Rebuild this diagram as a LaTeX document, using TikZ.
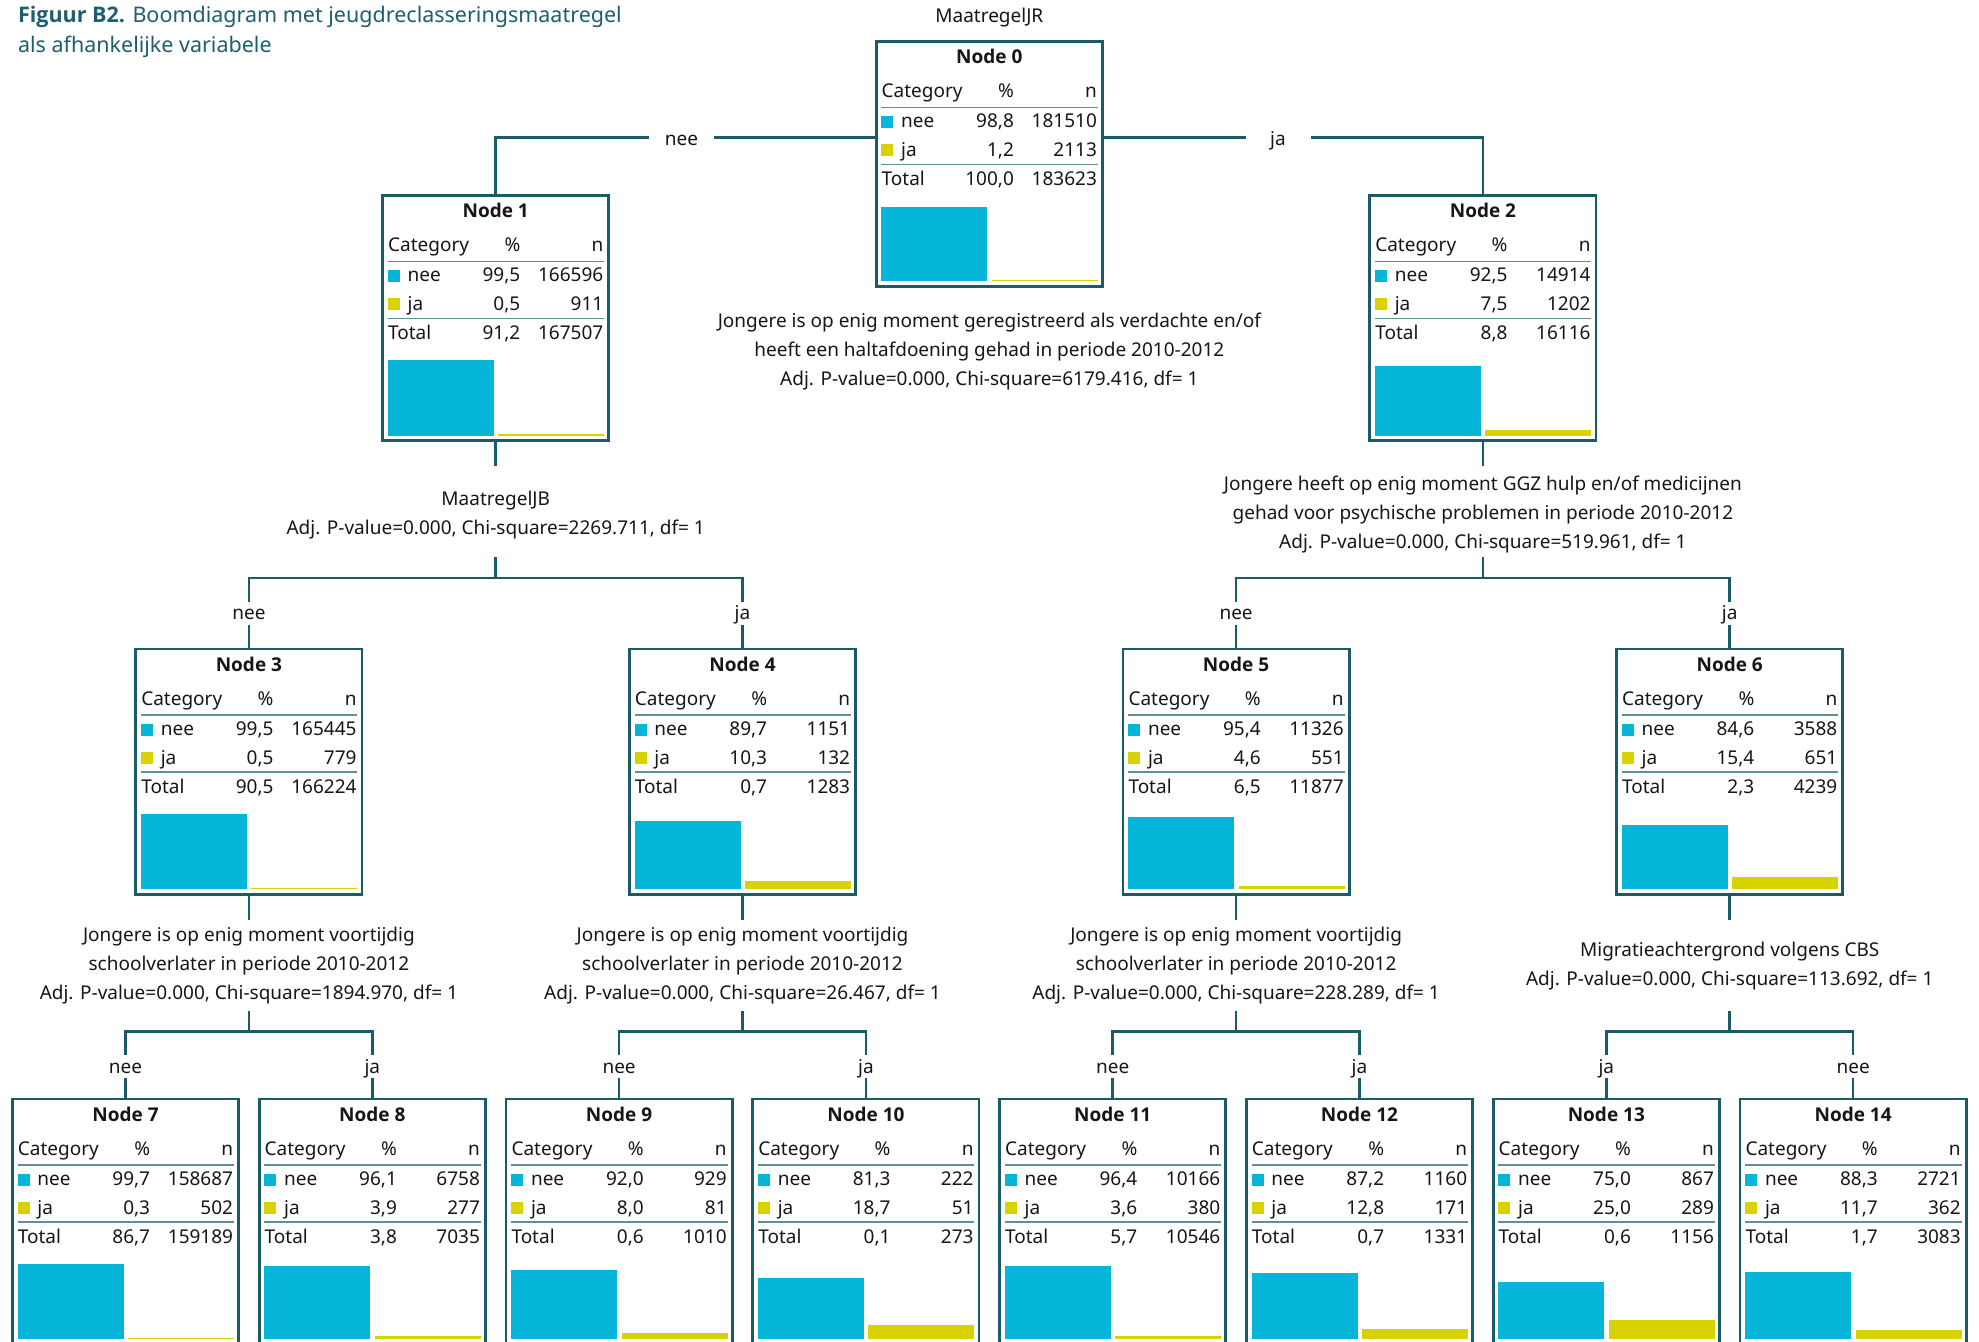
\documentclass[tikz,border=0pt]{standalone}
\usepackage{fontspec}
\setmainfont{Noto Sans}
\newfontfamily\boldsans{Open Sans}
\definecolor{tealdk}{HTML}{1B5B68}
\definecolor{titlecol}{HTML}{1F5F6C}
\definecolor{sepcol}{HTML}{5F8F99}
\definecolor{cyanbar}{HTML}{06B6D9}
\definecolor{yelbar}{HTML}{D8D300}
\definecolor{txtcol}{HTML}{161616}
\tikzset{
  box/.style={draw=tealdk, line width=1.4pt, minimum width=113.1pt, minimum height=122.6pt, inner sep=0pt, fill=white},
  conn/.style={draw=tealdk, line width=1.35pt},
  sepl/.style={draw=sepcol, line width=0.8pt},
  txt/.style={inner sep=0pt, text=txtcol, font=\fontsize{9.5}{14.5}\selectfont},
  ttl/.style={inner sep=0pt, text=txtcol, font=\fontsize{9.5}{14.5}\selectfont\boldsans\bfseries},
  lbl/.style={txt, fill=white, text height=7.5pt, text depth=1pt, minimum height=11.5pt, minimum width=32.5pt},
  info/.style={txt, align=center},
  figtitle/.style={inner sep=0pt, text=titlecol, font=\fontsize{10.75}{15}\selectfont}
}
\newcommand\cnode[3]{\def\cid{#1}\def\ccx{#2}\def\ctop{#3}\cnodeB}
\newcommand\cnodeB[8]{%
  \pgfmathsetmacro\hA{max(1.2,75.5*#7/100)}%
  \pgfmathsetmacro\hB{max(1.2,75.5*#8/100)}%
  \begin{scope}[shift={(\ccx-114.5,\ctop)}]
    \node[box] (n\cid) at (114.5,124) {};
    \node[ttl,anchor=base] (n\cid-t) at (114.5,24) {Node \cid};
    \node[txt,anchor=base west] (n\cid-hc) at (6.5,58) {Category};
    \node[txt,anchor=base east] (n\cid-hp) at (139.5,58) {\%};
    \node[txt,anchor=base east] (n\cid-hn) at (222.5,58) {n};
    \draw[sepl] (6.5,67.5) -- (223,67.5);
    \fill[cyanbar] (6.5,76) rectangle (18.5,88);
    \node[txt,anchor=base west] (n\cid-al) at (26,88) {nee};
    \node[txt,anchor=base east] (n\cid-ap) at (139.5,88) {#1};
    \node[txt,anchor=base east] (n\cid-an) at (222.5,88) {#2};
    \fill[yelbar] (6.5,104.5) rectangle (18.5,116.5);
    \node[txt,anchor=base west] (n\cid-bl) at (26,116.5) {ja};
    \node[txt,anchor=base east] (n\cid-bp) at (139.5,116.5) {#3};
    \node[txt,anchor=base east] (n\cid-bn) at (222.5,116.5) {#4};
    \draw[sepl] (6.5,124.5) -- (223,124.5);
    \node[txt,anchor=base west] (n\cid-cl) at (6.5,145.5) {Total};
    \node[txt,anchor=base east] (n\cid-cp) at (139.5,145.5) {#5};
    \node[txt,anchor=base east] (n\cid-cn) at (222.5,145.5) {#6};
    \fill[cyanbar] (6.5,241.5) rectangle (112.5,241.5-\hA);
    \fill[yelbar] (117,241.5) rectangle (223,241.5-\hB);
  \end{scope}}
\begin{document}
\begin{tikzpicture}[x=0.5pt,y=-0.5pt]
\useasboundingbox (0,0) rectangle (1979,1342);
\fill[white] (0,0) rectangle (1979,1342);
\clip (0,0) rectangle (1979,1342);

% title
\node[figtitle,anchor=base west] (title1) at (17.7,23) {{\boldsans\bfseries Figuur B2.} Boomdiagram met jeugdreclasseringsmaatregel};
\node[figtitle,anchor=base west] (title2) at (17.7,53) {als afhankelijke variabele};

% dependent variable
\node[txt,anchor=base] (dep) at (989.3,23) {MaatregelJR};

% nodes
\cnode{0}{989.3}{40}{98,8}{181510}{1,2}{2113}{100,0}{183623}{98.8}{1.2}
\cnode{1}{495.7}{194}{99,5}{166596}{0,5}{911}{91,2}{167507}{99.5}{0.5}
\cnode{2}{1482.9}{194}{92,5}{14914}{7,5}{1202}{8,8}{16116}{92.5}{7.5}
\cnode{3}{248.9}{647.5}{99,5}{165445}{0,5}{779}{90,5}{166224}{99.5}{0.5}
\cnode{4}{742.5}{647.5}{89,7}{1151}{10,3}{132}{0,7}{1283}{89.7}{10.3}
\cnode{5}{1236.1}{647.5}{95,4}{11326}{4,6}{551}{6,5}{11877}{95.4}{4.6}
\cnode{6}{1729.7}{647.5}{84,6}{3588}{15,4}{651}{2,3}{4239}{84.6}{15.4}
\cnode{7}{125.5}{1097.5}{99,7}{158687}{0,3}{502}{86,7}{159189}{99.7}{0.3}
\cnode{8}{372.3}{1097.5}{96,1}{6758}{3,9}{277}{3,8}{7035}{96.1}{3.9}
\cnode{9}{619.1}{1097.5}{92,0}{929}{8,0}{81}{0,6}{1010}{92.0}{8.0}
\cnode{10}{865.9}{1097.5}{81,3}{222}{18,7}{51}{0,1}{273}{81.3}{18.7}
\cnode{11}{1112.7}{1097.5}{96,4}{10166}{3,6}{380}{5,7}{10546}{96.4}{3.6}
\cnode{12}{1359.5}{1097.5}{87,2}{1160}{12,8}{171}{0,7}{1331}{87.2}{12.8}
\cnode{13}{1606.3}{1097.5}{75,0}{867}{25,0}{289}{0,6}{1156}{75.0}{25.0}
\cnode{14}{1853.1}{1097.5}{88,3}{2721}{11,7}{362}{1,7}{3083}{88.3}{11.7}

% split descriptions
\node[info] (s0) at (989.3,352) {Jongere is op enig moment geregistreerd als verdachte en/of\\heeft een haltafdoening gehad in periode 2010-2012\\Adj. P-value=0.000, Chi-square=6179.416, df= 1};
\node[info] (s1) at (495.7,515) {MaatregelJB\\Adj. P-value=0.000, Chi-square=2269.711, df= 1};
\node[info] (s2) at (1482.9,515) {Jongere heeft op enig moment GGZ hulp en/of medicijnen\\gehad voor psychische problemen in periode 2010-2012\\Adj. P-value=0.000, Chi-square=519.961, df= 1};
\node[info] (s3) at (248.9,966) {Jongere is op enig moment voortijdig\\schoolverlater in periode 2010-2012\\Adj. P-value=0.000, Chi-square=1894.970, df= 1};
\node[info] (s4) at (742.5,966) {Jongere is op enig moment voortijdig\\schoolverlater in periode 2010-2012\\Adj. P-value=0.000, Chi-square=26.467, df= 1};
\node[info] (s5) at (1236.1,966) {Jongere is op enig moment voortijdig\\schoolverlater in periode 2010-2012\\Adj. P-value=0.000, Chi-square=228.289, df= 1};
\node[info] (s6) at (1729.7,966) {Migratieachtergrond volgens CBS\\Adj. P-value=0.000, Chi-square=113.692, df= 1};

% connectors level 0
\draw[conn] ([yshift=13.25pt]n0.west) -| (n1.north);
\draw[conn] ([yshift=13.25pt]n0.east) -| (n2.north);

% junctions
\coordinate (j1) at (495.7,578);
\coordinate (j2) at (1482.9,578);
\coordinate (j3) at (248.9,1031.5);
\coordinate (j4) at (742.5,1031.5);
\coordinate (j5) at (1236.1,1031.5);
\coordinate (j6) at (1729.7,1031.5);

\foreach \p/\a/\b/\j in {1/3/4/j1, 2/5/6/j2, 3/7/8/j3, 4/9/10/j4, 5/11/12/j5, 6/13/14/j6}{
  \draw[conn] (n\p.south) -- ++(0,24);
  \draw[conn] (\j) -- ++(0,-21);
  \draw[conn] (n\a.north) |- (\j) -| (n\b.north);
}

% edge labels
\node[lbl] (e1) at (681.5,139) {nee};
\node[lbl] (e2) at (1278,139) {ja};
\node[lbl] (e3) at (248.9,613) {nee};
\node[lbl] (e4) at (742.5,613) {ja};
\node[lbl] (e5) at (1236.1,613) {nee};
\node[lbl] (e6) at (1729.7,613) {ja};
\node[lbl] (e7) at (125.5,1066.5) {nee};
\node[lbl] (e8) at (372.3,1066.5) {ja};
\node[lbl] (e9) at (619.1,1066.5) {nee};
\node[lbl] (e10) at (865.9,1066.5) {ja};
\node[lbl] (e11) at (1112.7,1066.5) {nee};
\node[lbl] (e12) at (1359.5,1066.5) {ja};
\node[lbl] (e13) at (1606.3,1066.5) {ja};
\node[lbl] (e14) at (1853.1,1066.5) {nee};
\end{tikzpicture}
\end{document}
